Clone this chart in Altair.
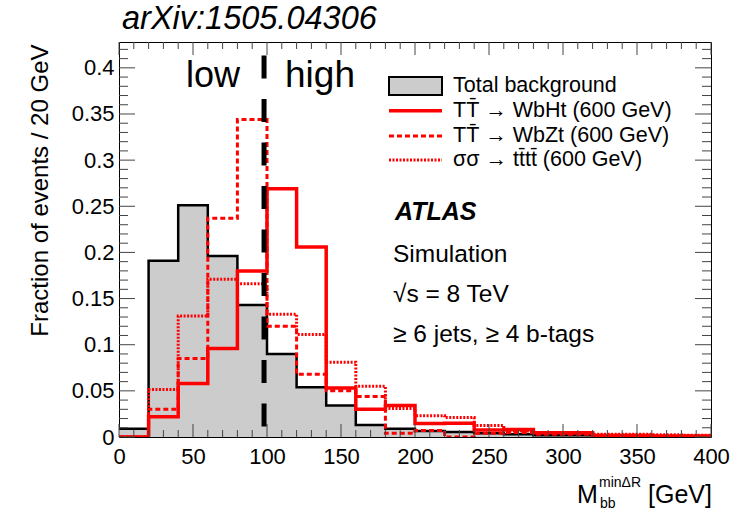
import altair as alt
import pandas as pd

FONT = "Liberation Sans"

# ---------------- data (fraction of events per 20 GeV bin, bins 0-400 GeV) ----------------
bin_edges = [0, 20, 40, 60, 80, 100, 120, 140, 160, 180, 200, 220, 240, 260, 280, 300, 320, 340, 360, 380, 400]
total_bg = [0.009, 0.191, 0.251, 0.196, 0.143, 0.090, 0.054, 0.034, 0.013, 0.009,
            0.0065, 0.0055, 0.004, 0.003, 0.002, 0.002, 0.001, 0.001, 0.0008, 0.0005]
wbht = [0.0, 0.022, 0.058, 0.096, 0.180, 0.269, 0.206, 0.053, 0.030, 0.034,
        0.0145, 0.015, 0.0075, 0.008, 0.0047, 0.0045, 0.0015, 0.0015, 0.0012, 0.001]
wbzt = [0.0, 0.030, 0.085, 0.237, 0.344, 0.120, 0.068, 0.050, 0.044, 0.004,
        0.007, 0.0, 0.004, 0.005, 0.003, 0.003, 0.002, 0.002, 0.001, 0.001]
tttt = [0.0, 0.0515, 0.131, 0.171, 0.166, 0.133, 0.111, 0.081, 0.055, 0.031,
        0.023, 0.021, 0.0125, 0.0065, 0.005, 0.004, 0.003, 0.003, 0.0025, 0.002]

legend_labels = ["Total background",
                 "TT\u0304 \u2192 WbHt (600 GeV)",
                 "TT\u0304 \u2192 WbZt (600 GeV)",
                 "\u03c3\u03c3 \u2192 tt\u0304tt\u0304 (600 GeV)"]
x_tick_labels = [0, 50, 100, 150, 200, 250, 300, 350, 400]
x_minor_ticks = [v for v in range(0, 410, 10) if v % 50 != 0]
y_tick_labels = [0, 0.05, 0.1, 0.15, 0.2, 0.25, 0.3, 0.35, 0.4]
y_minor_ticks = [round(i * 0.01, 2) for i in range(0, 43) if i % 5 != 0]
cut_value = [98]
info_lines = ["Simulation", "\u221as = 8 TeV", "\u2265 6 jets, \u2265 4 b-tags"]

W, H = 592, 395
xsc = alt.Scale(domain=[0, 400], nice=False, zero=False)
ysc = alt.Scale(domain=[0, 0.428], nice=False, zero=False)

x_axis = alt.Axis(values=x_tick_labels, title=None, ticks=False, tickSize=0, domain=False, grid=False,
                  labelFontSize=22, labelFont=FONT, labelColor="black", labelPadding=9, labelFlush=False)
y_axis = alt.Axis(values=y_tick_labels, title="Fraction of events / 20 GeV", ticks=False, tickSize=0,
                  domain=False, grid=False, labelFontSize=22, labelFont=FONT, labelColor="black",
                  labelPadding=5, labelFlush=False,
                  labelExpr="datum.value == 0 ? '0' : format(datum.value, '.2~f')",
                  titleFont=FONT, titleFontSize=24, titleFontWeight="normal", titleColor="black",
                  titleAngle=270, titleX=-72, titleY=2, titleAlign="right", titleBaseline="alphabetic")


def step_df(vals):
    return pd.DataFrame({"x": bin_edges, "y": vals + [vals[-1]]})


def X(field="x"):
    return alt.X(f"{field}:Q", scale=xsc, axis=x_axis)


def Y(field="y"):
    return alt.Y(f"{field}:Q", scale=ysc, axis=y_axis)


bg_area = alt.Chart(step_df(total_bg)).mark_area(interpolate="step-after", color="#cccccc", clip=True).encode(
    x=X(), y=Y())
bg_line = alt.Chart(step_df(total_bg)).mark_line(interpolate="step-after", color="black", strokeWidth=2.5,
                                                 clip=True).encode(x=X(), y=Y())
l_wbht = alt.Chart(step_df(wbht)).mark_line(interpolate="step-after", color="#ff0000", strokeWidth=3.5,
                                            clip=True).encode(x=X(), y=Y())
l_wbzt = alt.Chart(step_df(wbzt)).mark_line(interpolate="step-after", color="#ff0000", strokeWidth=3,
                                            strokeDash=[5, 3], clip=True).encode(x=X(), y=Y())
l_tttt = alt.Chart(step_df(tttt)).mark_line(interpolate="step-after", color="#ff0000", strokeWidth=3,
                                            strokeDash=[2, 1.5], clip=True).encode(x=X(), y=Y())

cut_df = pd.DataFrame({"x": cut_value, "y": [0.4133], "y2": [0.0105]})
cut = alt.Chart(cut_df).mark_rule(color="black", strokeWidth=5, strokeDash=[23, 20.5]).encode(
    x=X(), y=Y(), y2="y2:Q")

# inside ticks on all four sides
TICK = "#444444"
xmaj = pd.DataFrame({"v": x_tick_labels})
xmin = pd.DataFrame({"v": x_minor_ticks})
ymaj = pd.DataFrame({"v": y_tick_labels})
ymin = pd.DataFrame({"v": y_minor_ticks})
ticks = [
    alt.Chart(xmaj).mark_rule(color=TICK, strokeWidth=1).encode(x=X("v"), y=alt.value(H), y2=alt.value(H - 13)),
    alt.Chart(xmin).mark_rule(color=TICK, strokeWidth=1).encode(x=X("v"), y=alt.value(H), y2=alt.value(H - 7)),
    alt.Chart(xmaj).mark_rule(color=TICK, strokeWidth=1).encode(x=X("v"), y=alt.value(0), y2=alt.value(13)),
    alt.Chart(xmin).mark_rule(color=TICK, strokeWidth=1).encode(x=X("v"), y=alt.value(0), y2=alt.value(7)),
    alt.Chart(ymaj).mark_rule(color=TICK, strokeWidth=1).encode(y=Y("v"), x=alt.value(0), x2=alt.value(16)),
    alt.Chart(ymin).mark_rule(color=TICK, strokeWidth=1).encode(y=Y("v"), x=alt.value(0), x2=alt.value(9)),
    alt.Chart(ymaj).mark_rule(color=TICK, strokeWidth=1).encode(y=Y("v"), x=alt.value(W), x2=alt.value(W - 16)),
    alt.Chart(ymin).mark_rule(color=TICK, strokeWidth=1).encode(y=Y("v"), x=alt.value(W), x2=alt.value(W - 9)),
]


def txt(s, x, y, size, align="left", baseline="alphabetic", style="normal", weight="normal"):
    return alt.Chart(pd.DataFrame({"t": [s]})).mark_text(
        align=align, baseline=baseline, font=FONT, fontSize=size, fontStyle=style, fontWeight=weight,
        color="black").encode(text="t:N", x=alt.value(x), y=alt.value(y))


annotations = [
    txt("arXiv:1505.04306", 3, -13, 32.5, style="italic"),
    txt("low", 67, 44.7, 36),
    txt("high", 166, 44.7, 37),
    txt("ATLAS", 276, 178, 25, style="italic", weight="bold"),
    txt(info_lines[0], 274, 219.7, 24.5),
    txt(info_lines[1], 274, 259.7, 24.5),
    txt(info_lines[2], 274, 299.7, 24.5),
    # x-axis title
    txt("M", 458, 461, 25),
    txt("min\u0394R", 480, 445, 14),
    txt("bb", 481, 466, 14),
    txt("[GeV]", 593, 461, 25, align="right"),
]

# legend
LX0, LX1, TX = 270, 323, 334
leg_rows = [44, 68.7, 94, 118]
legend = [
    alt.Chart(pd.DataFrame({"a": [0]})).mark_rect(fill="#cccccc", stroke="black", strokeWidth=2).encode(
        x=alt.value(LX0), x2=alt.value(LX1), y=alt.value(leg_rows[0] - 9), y2=alt.value(leg_rows[0] + 9)),
    alt.Chart(pd.DataFrame({"a": [0]})).mark_rule(color="#ff0000", strokeWidth=3.5).encode(
        x=alt.value(LX0), x2=alt.value(LX1), y=alt.value(leg_rows[1])),
    alt.Chart(pd.DataFrame({"a": [0]})).mark_rule(color="#ff0000", strokeWidth=3, strokeDash=[5, 3]).encode(
        x=alt.value(LX0), x2=alt.value(LX1), y=alt.value(leg_rows[2])),
    alt.Chart(pd.DataFrame({"a": [0]})).mark_rule(color="#ff0000", strokeWidth=3, strokeDash=[2, 1.5]).encode(
        x=alt.value(LX0), x2=alt.value(LX1), y=alt.value(leg_rows[3])),
]
for lab, yy in zip(legend_labels, leg_rows):
    legend.append(txt(lab, TX, yy, 21.5, baseline="middle"))

chart = alt.layer(
    bg_area, bg_line, l_wbht, l_wbzt, l_tttt, *ticks, cut, *annotations, *legend
).properties(
    width=W, height=H,
    padding={"left": 119, "top": 42, "right": 754 - 119 - W, "bottom": 510 - 42 - H},
    autosize=alt.AutoSizeParams(type="none"),
    background="white",
).configure_view(stroke="black", strokeWidth=1)

chart.save("out.html", embed_options={"renderer": "svg", "actions": False})
